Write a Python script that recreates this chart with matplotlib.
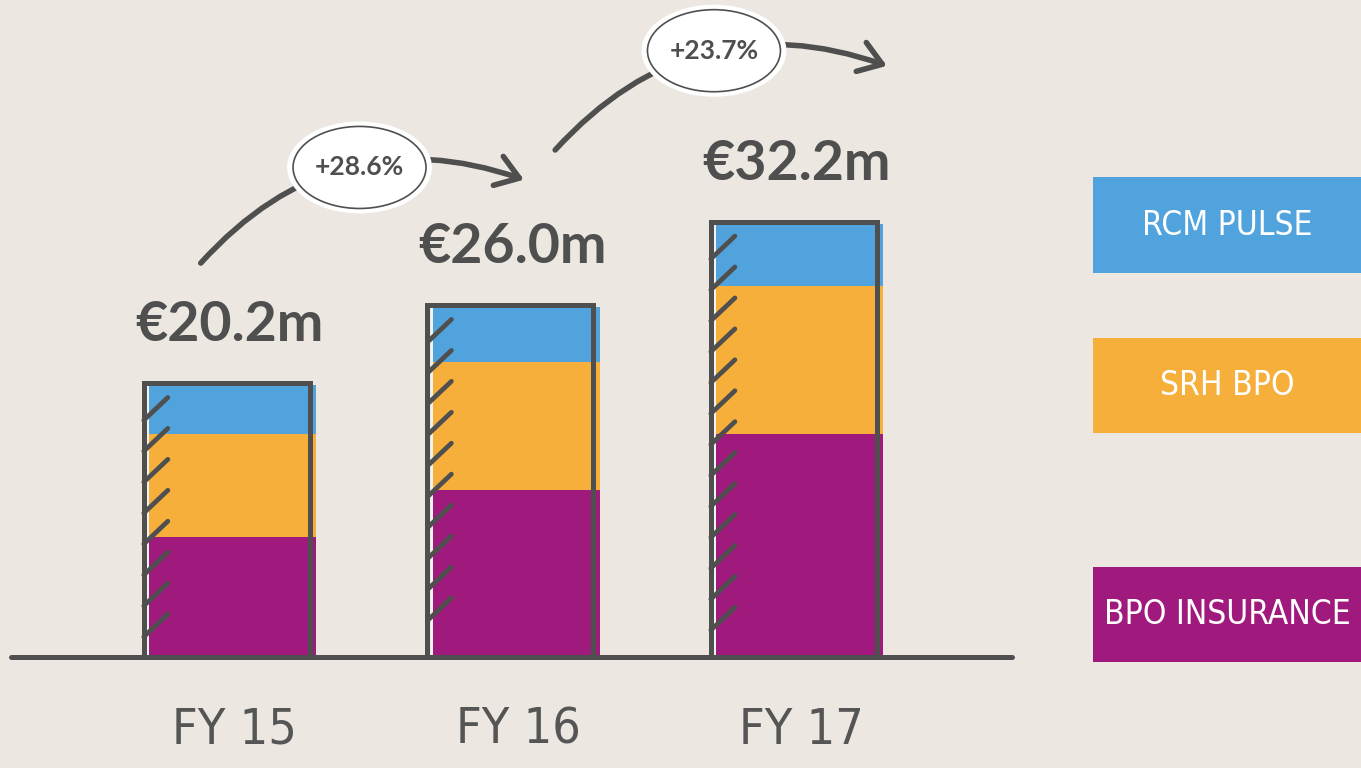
import matplotlib.pyplot as plt
from matplotlib.patches import Ellipse, Rectangle, FancyArrowPatch
import numpy as np

# ─────────────────────────────────────
# DATA (€m)
# ─────────────────────────────────────
years = ["FY 15", "FY 16", "FY 17"]
bpo_insurance = [8.9, 12.4, 16.6]
srh_bpo = [7.7, 9.5, 11.0]
rcm_pulse = [3.6, 4.1, 4.6]
total_labels = ["€20.2m", "€26.0m", "€32.2m"]
growth_labels = ["+28.6%", "+23.7%"]
legend_names = ["RCM PULSE", "SRH BPO", "BPO INSURANCE"]

# ─────────────────────────────────────
# STYLE
# ─────────────────────────────────────
BG = "#ECE8E1"
DARK = "#4F4F4F"
BLUE = "#50A3DC"
ORANGE = "#F6AF3B"
PURPLE = "#A01A7D"
NUM_FONT = "Lato"
HAND_FONT = "DejaVu Sans"

x = np.arange(len(years))
totals = np.array(bpo_insurance) + np.array(srh_bpo) + np.array(rcm_pulse)

fig = plt.figure(figsize=(13.61, 7.68), dpi=100)
fig.patch.set_facecolor(BG)
ax = fig.add_axes([0, 0, 1, 1])
ax.set_facecolor(BG)
ax.set_xlim(-0.818, 3.982)
ax.set_ylim(-8.25, 48.85)
ax.axis("off")

# stacked fills
w = 0.595
ax.bar(x, bpo_insurance, w, color=PURPLE, zorder=2)
ax.bar(x, srh_bpo, w, bottom=bpo_insurance, color=ORANGE, zorder=2)
ax.bar(x, rcm_pulse, w, bottom=np.array(bpo_insurance) + np.array(srh_bpo),
       color=BLUE, zorder=2)
# thin light strip on the left side of the fill
ax.bar(x - w / 2 + 0.002, totals, 0.007, color="#F4F2EE", zorder=2.5)

# hand drawn outline, a bit off to the left
off = -0.018
ow = 0.586
ax.bar(x + off, totals + 0.15, ow, fill=False, edgecolor=DARK,
       linewidth=3.6, zorder=3)

# little hatch strokes on the left edge of each bar
for i, t in enumerate(totals):
    xl = x[i] + off - ow / 2
    for y in np.arange(t - 2.6, 0.8, -2.3):
        ax.plot([xl, xl + 0.085], [y, y + 1.7], color=DARK, lw=3.4,
                solid_capstyle="round", zorder=4)

# base line
ax.plot([x[0] - 0.78, x[-1] + 0.75], [0, 0], color=DARK, lw=3.6,
        solid_capstyle="round", zorder=5)

# totals above bars
for i, t in enumerate(totals):
    ax.text(x[i] - 0.01, t + 3.3, total_labels[i], ha="center", va="baseline",
            fontsize=40, fontweight="bold", family=NUM_FONT, color=DARK)

# year labels
for i, yr in enumerate(years):
    ax.text(x[i] + 0.01, -5.4, yr, ha="center", va="center", fontsize=36,
            family=HAND_FONT, fontstretch="condensed", color="#555555")

# growth arrows with bubbles
arrow_dx = [(-0.11, 0.45, 1.03), (0.14, 0.70, 1.31)]
for i, g in enumerate(growth_labels):
    sx, ex, tx = arrow_dx[i]
    a = FancyArrowPatch((x[i] + sx, totals[i] * 1.45),
                        (x[i] + tx, totals[i + 1] * 1.365),
                        connectionstyle="arc3,rad=-0.33",
                        arrowstyle="->,head_length=0.8,head_width=0.55",
                        mutation_scale=20, lw=4.0, color=DARK,
                        capstyle="round", joinstyle="round",
                        shrinkA=0, shrinkB=0, zorder=6)
    ax.add_patch(a)
    cx, cy = x[i] + ex, totals[i + 1] * 1.40
    ax.add_patch(Ellipse((cx, cy), 0.511, 6.84, facecolor="white",
                         edgecolor="none", zorder=7))
    ax.add_patch(Ellipse((cx, cy), 0.469, 6.10, facecolor="white",
                         edgecolor=DARK, lw=1.2, zorder=8))
    ax.text(cx, cy, g, ha="center", va="center", fontsize=19,
            fontweight="bold", family=NUM_FONT, color=DARK, zorder=9)

# legend boxes on the right
box_colors = [BLUE, ORANGE, PURPLE]
box_y = [0.645, 0.436, 0.138]
for name, c, by in zip(legend_names, box_colors, box_y):
    fig.patches.append(Rectangle((0.803, by), 0.2, 0.124, transform=fig.transFigure,
                                 facecolor=c, edgecolor="none", zorder=1))
    fig.text(0.902, by + 0.062, name, ha="center", va="center", fontsize=24,
             family=HAND_FONT, fontstretch="condensed", color="white", zorder=2)

plt.savefig("out.png", dpi=100, facecolor=BG)
